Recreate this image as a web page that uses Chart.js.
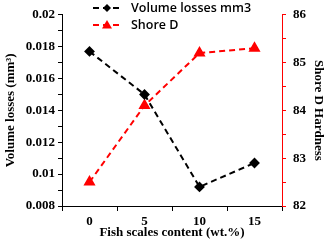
<!DOCTYPE html>
<html>
<head>
<meta charset="utf-8">
<script src="https://cdn.jsdelivr.net/npm/chart.js@4"></script>
<style>
  html, body { margin: 0; padding: 0; background: #fff; }
  #wrap { width: 326px; height: 244px; }
</style>
</head>
<body>
<div id="wrap"><canvas id="myChart" width="326" height="244"></canvas></div>
<script>
const categories = ['0', '5', '10', '15'];
const volumeLosses = [0.0177, 0.0150, 0.0092, 0.0107];
const shoreD = [82.5, 84.1, 85.2, 85.3];
const seriesNames = ['Volume losses mm3', 'Shore D'];

const tickFont = { family: 'Liberation Serif', size: 13, weight: 'bold' };
const titleFont = { family: 'Liberation Serif', size: 13, weight: 'bold' };

// legend drawn by hand: dashed line with the marker in the middle
const lineLegend = {
    id: 'lineLegend',
    afterDraw(chart) {
        const ctx = chart.ctx;
        chart.data.datasets.forEach((ds, i) => {
            const y = 8 + i * 17;
            const x0 = 93, x1 = 121, xm = 107;
            ctx.save();
            ctx.strokeStyle = ds.borderColor;
            ctx.lineWidth = 2;
            ctx.setLineDash([6, 4]);
            ctx.beginPath();
            ctx.moveTo(x0, y);
            ctx.lineTo(x1, y);
            ctx.stroke();
            ctx.setLineDash([]);
            ctx.fillStyle = ds.borderColor;
            ctx.beginPath();
            if (ds.pointStyle === 'rectRot') {
                ctx.moveTo(xm, y - 4);
                ctx.lineTo(xm + 4, y);
                ctx.lineTo(xm, y + 4);
                ctx.lineTo(xm - 4, y);
            } else {
                ctx.moveTo(xm, y - 5);
                ctx.lineTo(xm + 5, y + 3.5);
                ctx.lineTo(xm - 5, y + 3.5);
            }
            ctx.closePath();
            ctx.fill();
            ctx.fillStyle = '#000';
            ctx.font = '600 12.5px "Open Sans"';
            ctx.textBaseline = 'middle';
            ctx.fillText(ds.label, 131, y);
            ctx.restore();
        });
    }
};

const ctx = document.getElementById('myChart').getContext('2d');
new Chart(ctx, {
    type: 'line',
    data: {
        labels: categories,
        datasets: [{
            label: seriesNames[0],
            data: volumeLosses,
            yAxisID: 'y',
            borderColor: '#000000',
            backgroundColor: '#000000',
            borderWidth: 2,
            borderDash: [6, 4],
            pointStyle: 'rectRot',
            pointRadius: 4,
            pointHoverRadius: 4,
            tension: 0
        }, {
            label: seriesNames[1],
            data: shoreD,
            yAxisID: 'y1',
            borderColor: '#ff0000',
            backgroundColor: '#ff0000',
            borderWidth: 2,
            borderDash: [6, 4],
            pointStyle: 'triangle',
            pointRadius: 5,
            pointHoverRadius: 5,
            tension: 0
        }]
    },
    options: {
        responsive: false,
        animation: false,
        layout: { padding: { top: 9, left: 0, right: 0, bottom: 0 } },
        plugins: {
            legend: { display: false },
            tooltip: { enabled: false }
        },
        scales: {
            x: {
                type: 'category',
                offset: true,
                grid: { offset: true, drawOnChartArea: false, tickLength: 5, color: '#000' },
                border: { color: '#000', width: 1 },
                ticks: { font: tickFont, color: '#000', padding: 3 },
                title: { display: true, text: 'Fish scales content (wt.%)', font: titleFont, color: '#000', padding: { top: 0, bottom: 4 } },
                afterFit: s => { s.height = 38; }
            },
            y: {
                position: 'left',
                min: 0.008,
                max: 0.02,
                grid: { drawOnChartArea: false, tickLength: 4, color: '#000' },
                border: { color: '#000', width: 1 },
                ticks: {
                    stepSize: 0.001,
                    autoSkip: false,
                    font: tickFont,
                    color: '#000',
                    padding: 3,
                    callback: (v, i) => i % 2 === 0 ? String(parseFloat(v.toFixed(3))) : ''
                },
                title: { display: true, text: 'Volume losses (mm\u00b3)', font: titleFont, color: '#000', padding: { top: 3, bottom: 0 } },
                afterFit: s => { s.width = 62; }
            },
            y1: {
                position: 'right',
                min: 82,
                max: 86,
                grid: { drawOnChartArea: false, tickLength: 4, color: '#ff0000' },
                border: { color: '#ff0000', width: 1 },
                ticks: {
                    stepSize: 0.5,
                    autoSkip: false,
                    font: tickFont,
                    color: '#000',
                    padding: 7,
                    callback: v => Number.isInteger(v) ? String(v) : ''
                },
                title: { display: true, text: 'Shore D Hardness', font: titleFont, color: '#000', padding: { top: 0, bottom: 0 } },
                afterFit: s => { s.width = 44; }
            }
        }
    },
    plugins: [lineLegend]
});
</script>
</body>
</html>
